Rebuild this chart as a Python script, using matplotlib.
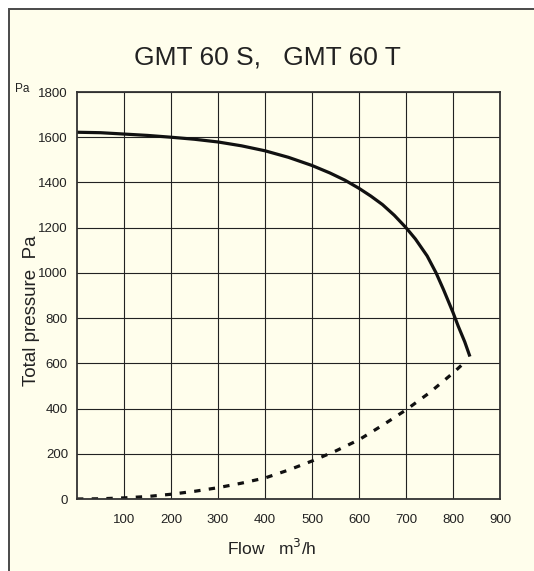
import matplotlib
matplotlib.use("Agg")
import matplotlib.pyplot as plt
from matplotlib.patches import Rectangle

plt.rcParams["font.family"] = ["Liberation Sans", "DejaVu Sans"]

# fan curve (total pressure vs flow)
fan_flow = [0, 50, 100, 150, 200, 250, 300, 350, 400, 450, 500, 538, 570,
            600, 625, 650, 675, 700, 720, 745, 764, 780, 790, 800, 811, 825,
            836]
fan_pressure = [1622, 1620, 1614, 1608, 1600, 1591, 1579, 1562, 1540, 1511,
                1475, 1442, 1410, 1374, 1340, 1302, 1255, 1200, 1150, 1075,
                1000, 925, 875, 825, 765, 695, 630]

# system curve
sys_flow = [0, 50, 100, 150, 200, 250, 300, 350, 400, 450, 500, 550, 600,
            650, 700, 750, 800, 825]
sys_pressure = [0, 1, 5, 11, 21, 34, 50, 70, 93, 128, 168, 212, 262, 326,
                394, 470, 557, 605]

x_ticks = [100, 200, 300, 400, 500, 600, 700, 800, 900]
y_ticks = [0, 200, 400, 600, 800, 1000, 1200, 1400, 1600, 1800]

W, H = 534, 571
fig = plt.figure(figsize=(W / 100, H / 100), dpi=100)
fig.patch.set_facecolor("white")

# cream panel with a dark frame (right and bottom run off the image)
fig.patches.append(Rectangle((8.5 / W, -0.05), 1.2, 1.05 - 9 / H,
                             transform=fig.transFigure, facecolor="#fffeec",
                             edgecolor="#4a4a4a", linewidth=1.4, zorder=-1))

ax = fig.add_axes([77 / W, (H - 499) / H, 423 / W, 407 / H])
ax.set_facecolor("none")
ax.set_xlim(0, 900)
ax.set_ylim(0, 1800)
ax.set_xticks(x_ticks)
ax.set_yticks(y_ticks)
ax.tick_params(length=0, labelsize=9.5, colors="#222222")
ax.tick_params(axis="x", pad=11)
ax.tick_params(axis="y", pad=6.5)
ax.grid(True, color="#222222", linewidth=0.8)
for s in ax.spines.values():
    s.set_color("#333333")
    s.set_linewidth(1.3)

ax.plot(fan_flow, fan_pressure, color="#111111", linewidth=2.3,
        solid_capstyle="butt", solid_joinstyle="round")
ax.plot(sys_flow, sys_pressure, color="#111111", linewidth=2.3,
        linestyle=(0, (2, 2.6)))

fig.text(267 / W, 1 - 57 / H, "GMT 60 S,   GMT 60 T", fontsize=19,
         ha="center", va="center", color="#222222")
fig.text(272 / W, 1 - 548 / H, "Flow   m$^3$/h", fontsize=12.5,
         ha="center", va="center", color="#222222")
fig.text(32 / W, 1 - 311 / H, "Total pressure  Pa", fontsize=13.5,
         rotation=90, ha="center", va="center", color="#222222")
fig.text(22 / W, 1 - 89 / H, "Pa", fontsize=8.5, ha="center", va="center",
         color="#222222")

fig.savefig("out.png", dpi=100)
